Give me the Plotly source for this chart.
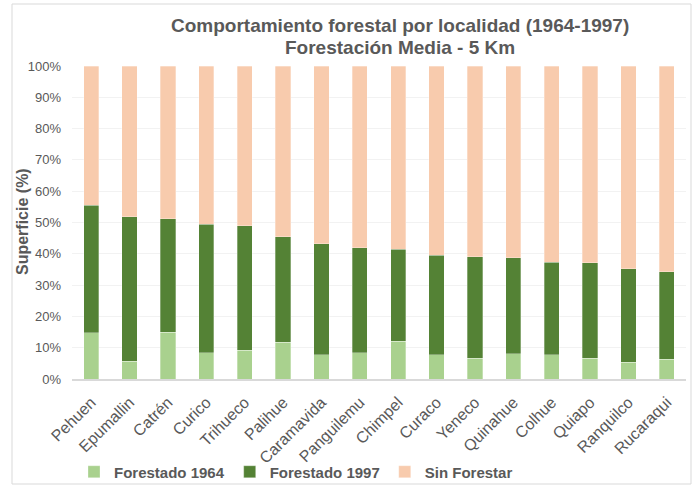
import plotly.graph_objects as go

localidades = ["Pehuen", "Epumallin", "Catrén", "Curico", "Trihueco", "Palihue",
               "Caramavida", "Panguilemu", "Chimpel", "Curaco", "Yeneco", "Quinahue",
               "Colhue", "Quiapo", "Ranquilco", "Rucaraqui"]
forestado_1964 = [14.7, 5.6, 14.9, 8.4, 9.2, 11.7, 7.7, 8.4, 12.1, 7.7, 6.6, 8.0, 7.7, 6.6, 5.4, 6.3]
forestado_1997 = [40.8, 46.3, 36.3, 41.1, 39.8, 33.8, 35.5, 33.5, 29.3, 31.8, 32.5, 30.7, 29.6, 30.6, 29.8, 28.0]
sin_forestar = [44.5, 48.1, 48.8, 50.5, 51.0, 54.5, 56.8, 58.1, 58.6, 60.5, 60.9, 61.3, 62.7, 62.8, 64.8, 65.7]
y_ticks = [0, 10, 20, 30, 40, 50, 60, 70, 80, 90, 100]
y_tick_labels = [f"{v}%" for v in y_ticks]
title_lines = ["Comportamiento forestal por localidad (1964-1997)", "Forestación Media - 5 Km"]
y_title = "Superficie (%)"

FONT = "Liberation Sans, Arial, sans-serif"
GREY = "#595959"

# plot area in pixels
L, R, T, B = 72, 686, 66, 379
W, H = 699, 485
PW, PH = R - L, B - T

def px_x(x):
    return (x - L) / PW

def px_y(y):
    return (B - y) / PH

fig = go.Figure()
series = [
    ("Forestado 1964", forestado_1964, "#A9D18E"),
    ("Forestado 1997", forestado_1997, "#548235"),
    ("Sin Forestar", sin_forestar, "#F8CBAD"),
]
for name, vals, col in series:
    fig.add_trace(go.Bar(
        x=localidades, y=vals, name=f"<b>{name}</b>",
        marker=dict(color=col, line=dict(color="rgba(255,255,255,0.6)", width=0.5)),
        width=0.4,
    ))

fig.update_layout(
    barmode="stack",
    width=W, height=H,
    margin=dict(l=L, r=W - R, t=T, b=H - B, autoexpand=False),
    paper_bgcolor="white", plot_bgcolor="white",
    font=dict(family=FONT, color=GREY),
    showlegend=True,
    legend=dict(
        orientation="h", x=px_x(296), xanchor="center", y=px_y(472), yanchor="middle",
        font=dict(size=15, color=GREY, family=FONT), itemwidth=30,
        traceorder="normal", bgcolor="rgba(0,0,0,0)",
    ),
)
fig.add_annotation(text=f"<b>{title_lines[0]}</b>", xref="paper", yref="paper",
                   x=px_x(400), y=px_y(26), xanchor="center", yanchor="middle",
                   showarrow=False, font=dict(size=19, color=GREY, family=FONT))
fig.add_annotation(text=f"<b>{title_lines[1]}</b>", xref="paper", yref="paper",
                   x=px_x(400), y=px_y(47), xanchor="center", yanchor="middle",
                   showarrow=False, font=dict(size=19, color=GREY, family=FONT))
fig.add_annotation(text=f"<b>{y_title}</b>", xref="paper", yref="paper",
                   x=px_x(22), y=px_y(222), xanchor="center", yanchor="middle",
                   textangle=-90, showarrow=False,
                   font=dict(size=16, color=GREY, family=FONT))
fig.update_xaxes(
    tickangle=-45, tickfont=dict(size=16, color=GREY), showgrid=False,
    showline=True, linecolor="#D9D9D9", linewidth=1.5, ticks="",
    automargin=False, ticklabelstandoff=6,
)
fig.update_yaxes(
    range=[0, 100], tickvals=y_ticks, ticktext=y_tick_labels,
    tickfont=dict(size=13, color=GREY), showgrid=True, gridcolor="#F2F2F2",
    gridwidth=1, zeroline=False, ticks="", automargin=False, ticklabelstandoff=10,
)
fig.add_shape(type="rect", xref="paper", yref="paper",
              x0=px_x(12), x1=px_x(691), y0=px_y(484), y1=px_y(4),
              line=dict(color="#D9D9D9", width=1), fillcolor="rgba(0,0,0,0)", layer="below")

fig.write_html("out.html", config={"displayModeBar": False},
               post_script="document.body.style.margin='0';")
